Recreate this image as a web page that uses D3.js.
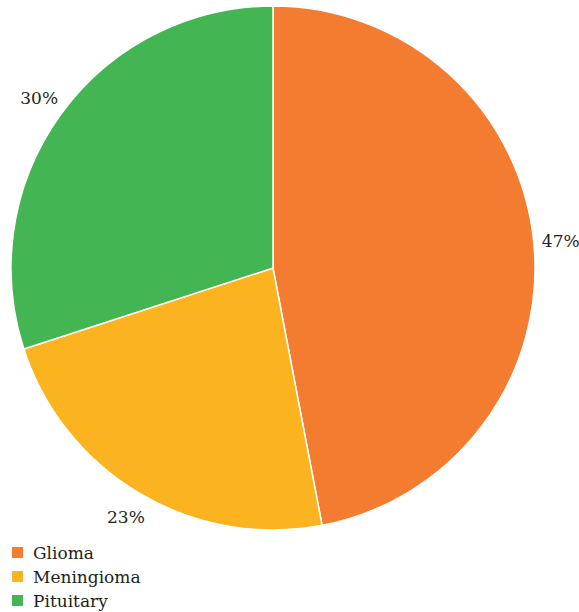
<!DOCTYPE html>
<html>
<head>
<meta charset="utf-8">
<script src="https://cdn.jsdelivr.net/npm/d3@7"></script>
<style>
  body { margin: 0; background: #fff; }
</style>
</head>
<body>
<div id="chart"></div>
<script>
// chart data
const categories = ["Glioma", "Meningioma", "Pituitary"];
const values = [47, 23, 30];
const colors = ["#f47c30", "#fbb41f", "#44b553"];

const width = 579, height = 612;
const cx = 273, cy = 268, radius = 262;
const serif = "DejaVu Serif";

const svg = d3.select("#chart").append("svg")
  .attr("width", width)
  .attr("height", height);

const pie = d3.pie().sort(null).value(d => d.value);
const arcs = pie(categories.map((c, i) => ({ name: c, value: values[i] })));

const arc = d3.arc().innerRadius(0).outerRadius(radius);
const labelArc = d3.arc().innerRadius(289).outerRadius(289);

const g = svg.append("g").attr("transform", `translate(${cx},${cy})`);

g.selectAll("path")
  .data(arcs)
  .enter().append("path")
  .attr("d", arc)
  .attr("fill", (d, i) => colors[i])
  .attr("stroke", "#fff")
  .attr("stroke-width", 1.5);

// percentage labels just outside the pie
g.selectAll("text.label")
  .data(arcs)
  .enter().append("text")
  .attr("class", "label")
  .attr("transform", d => {
    const [x, y] = labelArc.centroid(d);
    return `translate(${x},${y})`;
  })
  .attr("text-anchor", "middle")
  .attr("dy", "0.35em")
  .attr("fill", "#231f20")
  .attr("font-family", serif)
  .attr("font-size", 17)
  .text(d => d.value + "%");

// legend
const legend = svg.append("g").attr("transform", "translate(12,547)");
categories.forEach((c, i) => {
  const item = legend.append("g").attr("transform", `translate(0,${i * 24})`);
  item.append("rect")
    .attr("width", 11)
    .attr("height", 11)
    .attr("fill", colors[i]);
  item.append("text")
    .attr("x", 21)
    .attr("y", 6)
    .attr("dy", "0.35em")
    .attr("fill", "#231f20")
    .attr("font-family", serif)
    .attr("font-size", 17)
    .text(c);
});
</script>
</body>
</html>
